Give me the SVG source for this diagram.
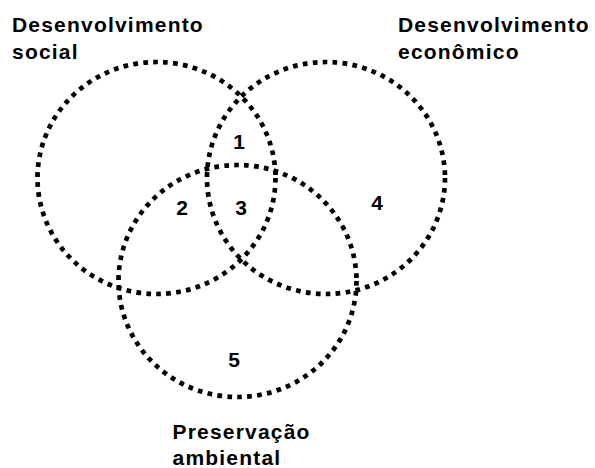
<svg xmlns="http://www.w3.org/2000/svg" width="595" height="468" viewBox="0 0 595 468">
<style>
.c{fill:none;stroke:#000;stroke-width:4.7;stroke-dasharray:4.7 5.3}
.t{font-family:"Liberation Sans",Arial,sans-serif;font-weight:bold;font-size:21px;letter-spacing:1.2px;fill:#000}
.n{font-family:"Liberation Sans",Arial,sans-serif;font-weight:bold;font-size:21px;fill:#000;text-anchor:middle}
</style>
<rect width="595" height="468" fill="#fff"/>
<g id="social">
<ellipse class="c" cx="156.5" cy="178" rx="119" ry="116"/>
<text class="t" x="12" y="31.5">Desenvolvimento</text>
<text class="t" x="12" y="58.5">social</text>
</g>
<g id="economico">
<ellipse class="c" cx="326" cy="178" rx="119" ry="116"/>
<text class="t" x="398" y="31.5">Desenvolvimento</text>
<text class="t" x="398" y="58.5">econômico</text>
</g>
<g id="ambiental">
<ellipse class="c" cx="237.5" cy="281" rx="119" ry="116"/>
<text class="t" x="172.5" y="439">Preservação</text>
<text class="t" x="172.5" y="465">ambiental</text>
</g>
<g id="regions">
<text class="n" x="239" y="149">1</text>
<text class="n" x="182" y="215">2</text>
<text class="n" x="241" y="215">3</text>
<text class="n" x="377" y="210">4</text>
<text class="n" x="234" y="367">5</text>
</g>
<g id="connectors"/>
</svg>
